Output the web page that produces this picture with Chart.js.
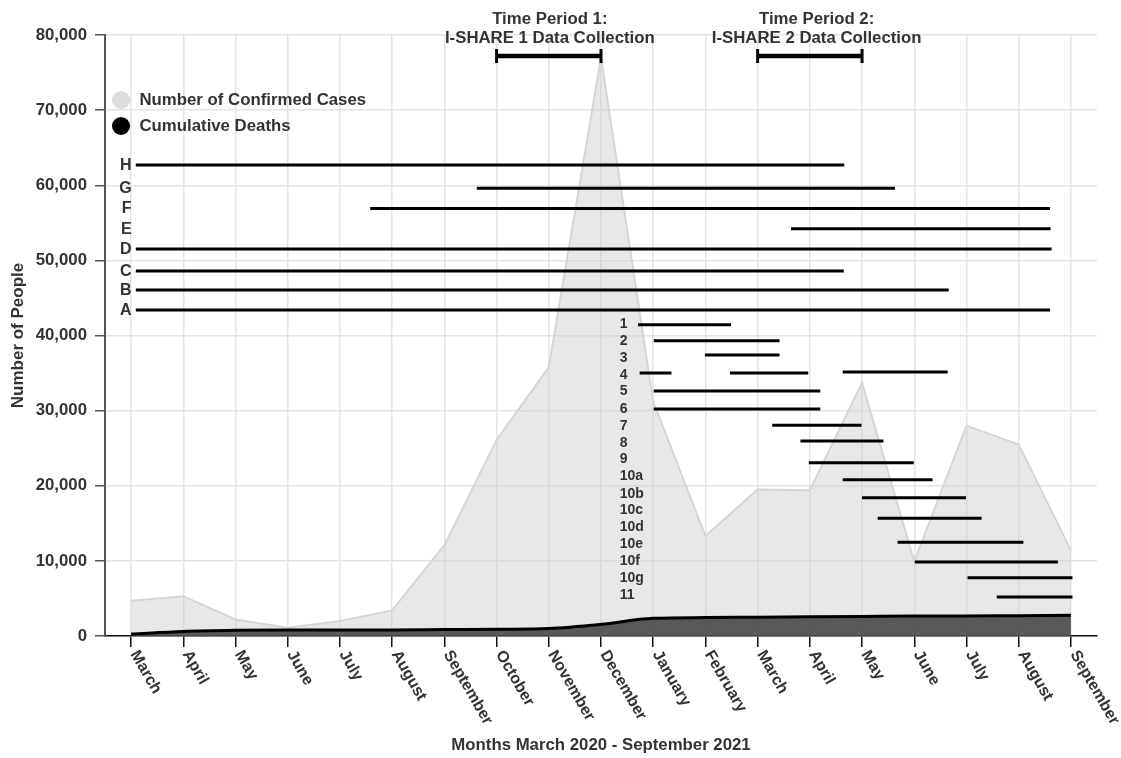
<!DOCTYPE html>
<html>
<head>
<meta charset="utf-8">
<script src="https://cdn.jsdelivr.net/npm/chart.js@4.4.1/dist/chart.umd.min.js"></script>
<style>
  html, body { margin: 0; padding: 0; background: #ffffff; overflow: hidden; }
  canvas { display: block; }
</style>
</head>
<body>
<canvas id="chart" width="1121" height="758"></canvas>
<script>
// ---------------- DATA ----------------
const months = ['March','April','May','June','July','August','September','October','November','December',
                'January','February','March','April','May','June','July','August','September'];
const monthIndex = [0,1,2,3,4,5,6,7,8,9,10,11,12,13,14,15,16,17,18];

const confirmedCases = [4700, 5300, 2200, 1100, 2000, 3400, 12100, 26100, 35800, 77000,
                        31200, 13300, 19500, 19400, 33700, 9900, 28000, 25500, 11400];
const cumulativeDeaths = [250, 600, 750, 800, 800, 800, 850, 900, 1000, 1550,
                          2350, 2450, 2500, 2550, 2600, 2650, 2650, 2700, 2750];

// lettered studies (row value on the y scale, start / end in month index)
const letterLabels = ['H','G','F','E','D','C','B','A'];
const letterRow    = [62700, 59600, 56900, 54200, 51500, 48600, 46050, 43400];
const letterStart  = [0.09, 6.62, 4.58, 12.64, 0.09, 0.09, 0.09, 0.09];
const letterEnd    = [13.66, 14.63, 17.6, 17.61, 17.63, 13.65, 15.66, 17.6];

// numbered study labels
const numLabels   = ['1','2','3','4','5','6','7','8','9','10a','10b','10c','10d','10e','10f','10g','11'];
const numLabelRow = [41530, 39310, 37100, 34750, 32610, 30310, 27990, 25780, 23600, 21300,
                     19000, 16770, 14550, 12250, 10020, 7760, 5500];
const numLabelX = 9.36;

// numbered study segments
const segRow   = [41440, 39310, 37400, 35010, 35010, 35140, 32610, 30220, 28050, 25960, 23070,
                  20810, 18410, 15670, 12480, 9850, 7760, 5190];
const segStart = [9.71, 10.01, 10.99, 9.74, 11.47, 13.63, 10.01, 10.01, 12.28, 12.82, 12.98,
                  13.63, 14.0, 14.3, 14.68, 15.01, 16.02, 16.58];
const segEnd   = [11.49, 12.42, 12.42, 10.35, 12.97, 15.64, 13.2, 13.2, 13.99, 14.41, 14.99,
                  15.35, 15.99, 16.29, 17.09, 17.75, 18.03, 18.03];

// data collection periods
const periodTitles = [['Time Period 1:', 'I-SHARE 1 Data Collection'],
                      ['Time Period 2:', 'I-SHARE 2 Data Collection']];
const periodStart = [7, 12];
const periodEnd   = [9, 14];
const periodTitleX = [8.02, 13.13];
const periodRow = 77200;

const yTicks = [0, 10000, 20000, 30000, 40000, 50000, 60000, 70000, 80000];

// ---------------- BUILD ----------------
const FONT = '"Liberation Sans", Arial, Helvetica, sans-serif';
const TXT = '#333333';

function segmentData(starts, ends, rows) {
  const out = [];
  for (let i = 0; i < starts.length; i++) {
    out.push({x: starts[i], y: rows[i]});
    out.push({x: ends[i], y: rows[i]});
    out.push({x: ends[i], y: null});
  }
  return out;
}

const casesData  = monthIndex.map((m, i) => ({x: m, y: confirmedCases[i]}));
const deathsData = monthIndex.map((m, i) => ({x: m, y: cumulativeDeaths[i]}));
const periodData = segmentData(periodStart, periodEnd, periodStart.map(() => periodRow));

const annotPlugin = {
  id: 'annot',
  afterDraw(chart) {
    const ctx = chart.ctx;
    const xs = chart.scales.x, ys = chart.scales.y;
    const area = chart.chartArea;
    ctx.save();
    ctx.fillStyle = TXT;

    // period titles
    ctx.font = 'bold 16.8px ' + FONT;
    ctx.textAlign = 'center';
    ctx.textBaseline = 'middle';
    periodTitles.forEach((lines, i) => {
      const px = xs.getPixelForValue(periodTitleX[i]);
      ctx.fillText(lines[0], px, area.top - 16);
      ctx.fillText(lines[1], px, area.top + 3);
    });

    // legend
    const lx = area.left + 16, ly1 = area.top + 65, ly2 = area.top + 91;
    ctx.beginPath(); ctx.arc(lx, ly1, 9, 0, Math.PI * 2); ctx.fillStyle = '#dcdcdc'; ctx.fill();
    ctx.beginPath(); ctx.arc(lx, ly2, 9, 0, Math.PI * 2); ctx.fillStyle = '#000000'; ctx.fill();
    ctx.fillStyle = TXT;
    ctx.textAlign = 'left';
    ctx.font = 'bold 16.8px ' + FONT;
    ctx.fillText('Number of Confirmed Cases', lx + 18.5, ly1);
    ctx.fillText('Cumulative Deaths', lx + 18.5, ly2);

    // letter labels
    ctx.font = 'bold 16px ' + FONT;
    ctx.textAlign = 'right';
    letterLabels.forEach((t, i) => {
      ctx.fillText(t, xs.getPixelForValue(0) + 0.5, ys.getPixelForValue(letterRow[i]) + 0.5);
    });

    // numbered labels
    ctx.font = 'bold 14px ' + FONT;
    ctx.textAlign = 'left';
    numLabels.forEach((t, i) => {
      ctx.fillText(t, xs.getPixelForValue(numLabelX), ys.getPixelForValue(numLabelRow[i]) + 0.5);
    });

    // rotated month tick labels
    ctx.font = 'bold 16px ' + FONT;
    ctx.textAlign = 'left';
    ctx.textBaseline = 'alphabetic';
    const ang = 60 * Math.PI / 180;
    months.forEach((m, i) => {
      const px = xs.getPixelForValue(monthIndex[i]);
      ctx.save();
      ctx.translate(px - 1, area.bottom + 18);
      ctx.rotate(ang);
      ctx.fillText(m, 0, 0);
      ctx.restore();
    });
    ctx.restore();
  }
};

const lineStyle = {
  borderColor: '#000000', borderWidth: 3, pointRadius: 0, fill: false,
  spanGaps: false, borderCapStyle: 'butt'
};

new Chart(document.getElementById('chart'), {
  type: 'line',
  data: {
    datasets: [
      {
        label: 'Number of Confirmed Cases',
        data: casesData,
        borderColor: '#d5d5d5', borderWidth: 2,
        backgroundColor: 'rgba(205,205,205,0.45)',
        fill: 'origin', pointRadius: 0, tension: 0, order: 4
      },
      {
        label: 'Cumulative Deaths',
        data: deathsData,
        borderColor: '#000000', borderWidth: 3,
        backgroundColor: 'rgba(68,68,68,0.87)',
        fill: 'origin', pointRadius: 0, cubicInterpolationMode: 'monotone', order: 3
      },
      Object.assign({label: 'Lettered studies', data: segmentData(letterStart, letterEnd, letterRow), order: 2}, lineStyle),
      Object.assign({label: 'Numbered studies', data: segmentData(segStart, segEnd, segRow), order: 1}, lineStyle),
      Object.assign({}, lineStyle, {
        label: 'Data collection periods', data: periodData, order: 0,
        borderWidth: 4.5, pointRadius: 7, pointStyle: 'line', pointRotation: 90,
        pointBorderColor: '#000000', pointBorderWidth: 3, pointBackgroundColor: '#000000'
      })
    ]
  },
  options: {
    responsive: false,
    animation: false,
    events: [],
    layout: { padding: { top: 35, right: 24, left: 0, bottom: 0 } },
    plugins: {
      legend: { display: false },
      tooltip: { enabled: false },
      title: { display: false }
    },
    scales: {
      x: {
        type: 'linear',
        min: -0.5, max: 18.5,
        afterBuildTicks: (s) => { s.ticks = monthIndex.map(v => ({value: v})); },
        afterFit: (s) => { s.height = 122; },
        ticks: { display: false },
        grid: { color: '#e4e4e4', lineWidth: 1.5, tickLength: 11, tickColor: '#111111', tickWidth: 1.5 },
        border: { display: true, color: '#111111', width: 1.5 },
        title: {
          display: true, text: 'Months March 2020 - September 2021', color: TXT,
          font: { family: FONT, size: 16.8, weight: 'bold' }, padding: { top: 0, bottom: 3 }
        }
      },
      y: {
        type: 'linear',
        min: 0, max: 80000,
        afterBuildTicks: (s) => { s.ticks = yTicks.map(v => ({value: v})); },
        afterFit: (s) => { s.width = 105; },
        ticks: {
          color: TXT, padding: 8,
          font: { family: FONT, size: 16.8, weight: 'bold' },
          callback: (v) => v.toLocaleString('en-US')
        },
        grid: { color: '#e4e4e4', lineWidth: 1.5, tickLength: 10, tickColor: '#555555', tickWidth: 1.5 },
        border: { display: true, color: '#555555', width: 2 },
        title: {
          display: true, text: 'Number of People', color: TXT,
          font: { family: FONT, size: 17, weight: 'bold' }, padding: { top: 8, bottom: 0 }
        }
      }
    }
  },
  plugins: [annotPlugin]
});
</script>
</body>
</html>
